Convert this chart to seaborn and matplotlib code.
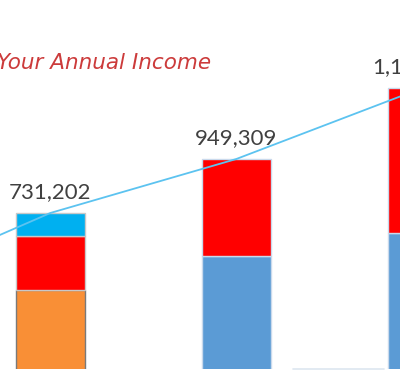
import numpy as np
import pandas as pd
import matplotlib
matplotlib.use("Agg")
import matplotlib.pyplot as plt
import seaborn as sns

#================================資料===============================
periods = ["P0", "P1", "P2", "P3"]              # P0 在畫面左側外面
bar_periods = [1, 2, 3]
seg_bottom = [420000, 557500, 650400]           # 最下層
seg_middle = [218000, 391809, 585700]           # 紅色
seg_top = [93202, 0, 0]                         # 青色(只有第一根)
line_values = [404000, 731202, 949309, 1236100]
bar_labels = ["731,202", "949,309", "1,186,135"]
title_text = "Your Annual Income"
#==================================================================

sns.set_theme(style="white")
plt.rcParams['font.family'] = ['Lato', 'DejaVu Sans']

fig = plt.figure(figsize=(4.0, 3.81), dpi=100)
ax = fig.add_axes([0, 12/381, 1, 369/381])

bottom_colors = ["#F98F36", "#5B9BD5", "#5B9BD5"]
bottom_edges = ["#7a7a7a", "#c9d9ec", "#c9d9ec"]
mid_edges = ["#c8c8c8", "#c9d9ec", "#c9d9ec"]
w = 0.371

b = np.array(seg_bottom, dtype=float)
m = np.array(seg_middle, dtype=float)
t = np.array(seg_top, dtype=float)

ax.bar(bar_periods, b, width=w, color=bottom_colors, edgecolor=bottom_edges, linewidth=1.0)
ax.bar(bar_periods, m, bottom=b, width=w, color="#FF0000", edgecolor=mid_edges, linewidth=1.0)
ax.bar(bar_periods[:1], t[:1], bottom=(b + m)[:1], width=w, color="#00B0F0", edgecolor="#c8c8c8", linewidth=1.0)

# 折線
line_df = pd.DataFrame({"x": range(len(periods)), "y": line_values})
sns.lineplot(data=line_df, x="x", y="y", ax=ax, color="#5CC3F0", linewidth=1.3)

# 數值標籤
totals = b + m + t
for xi, tot, lab in zip(bar_periods, totals, bar_labels):
    ax.annotate(lab, (xi, tot), xytext=(0, 8), textcoords="offset points",
                ha="center", va="bottom", fontsize=16, color="#404040",
                annotation_clip=False)

# 底部淡線
ax.axhline(101118, xmin=0.7325, xmax=0.96, color="#dde6f0", linewidth=1.2, clip_on=False)

ax.set_xlim(0.7296, 2.880)
ax.set_ylim(101118, 1591509)
ax.axis("off")

fig.text(-0.008, 0.835, title_text, fontsize=15.5, color="#CC3B3B",
         style="italic", family=["DejaVu Sans"], ha="left", va="center")

plt.savefig("out.png", dpi=100)
plt.close()
